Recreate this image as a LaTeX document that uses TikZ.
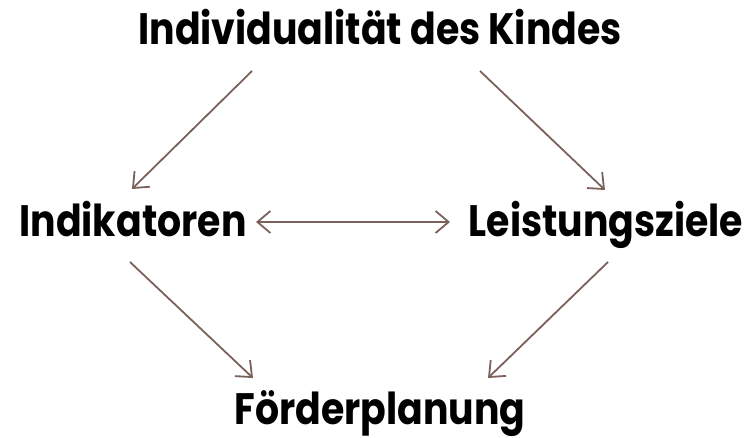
\documentclass[tikz,border=0pt]{standalone}
\usepackage{fontspec}
\setmainfont{Poppins}[BoldFont={* Bold}]
\newfontfamily\lblfont{Poppins Bold}[FakeStretch=0.86]
\usetikzlibrary{arrows.meta}
\definecolor{arrowc}{RGB}{122,98,90}
\tikzset{
  lbl/.style={anchor=base, inner sep=0pt, font=\fontsize{44}{44}\lblfont, text=black},
  tip/.style={Straight Barb[length=13pt,width=22pt,line width=1.8pt]},
  conn/.style={draw=arrowc, line width=1.8pt, -{Straight Barb[length=13pt,width=22pt,line width=1.8pt]}},
  conn2/.style={draw=arrowc, line width=1.8pt, {Straight Barb[length=13pt,width=22pt,line width=1.8pt]}-{Straight Barb[length=13pt,width=22pt,line width=1.8pt]}}
}
\begin{document}
\begin{tikzpicture}[x=1pt,y=-1pt]
\useasboundingbox (0,0) rectangle (752,438);
\node[lbl] (kind) at (380,45) {Individualität des Kindes};
\node[lbl] (ind) at (133,237) {Indikatoren};
\node[lbl] (lei) at (606,237) {Leistungsziele};
\node[lbl] (foe) at (380,424) {Förderplanung};
\coordinate (k1) at (252,71);
\coordinate (i1) at (132,189);
\coordinate (k2) at (480,71);
\coordinate (l1) at (605,190);
\coordinate (i2) at (130,262);
\coordinate (f1) at (253,378);
\coordinate (l2) at (608,262);
\coordinate (f2) at (488,378);
\coordinate (ir) at (256,222);
\coordinate (ll) at (450,222);
\draw[conn] (k1) -- (i1);
\draw[conn] (k2) -- (l1);
\draw[conn] (i2) -- (f1);
\draw[conn] (l2) -- (f2);
\draw[conn2] (ir) -- (ll);
\end{tikzpicture}
\end{document}
